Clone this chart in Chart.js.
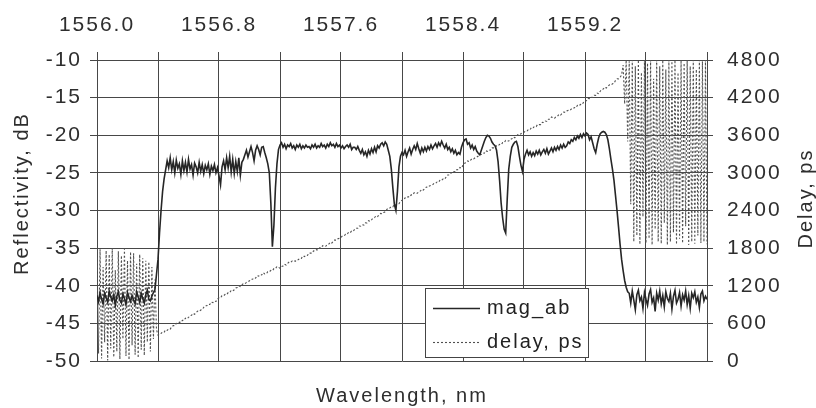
<!DOCTYPE html>
<html>
<head>
<meta charset="utf-8">
<script src="https://cdn.jsdelivr.net/npm/chart.js@4/dist/chart.umd.min.js"></script>
<style>
html,body{margin:0;padding:0;background:#fff;}
#wrap{width:816px;height:408px;}
</style>
</head>
<body>
<div id="wrap"><canvas id="c" width="816" height="408"></canvas></div>
<script>
// Wavelength samples, nm
const wavelength = [
1556.00,1556.01,1556.02,1556.03,1556.04,1556.05,1556.06,1556.07,1556.08,1556.09,
1556.10,1556.11,1556.12,1556.13,1556.14,1556.15,1556.16,1556.17,1556.18,1556.19,
1556.20,1556.21,1556.22,1556.23,1556.24,1556.25,1556.26,1556.27,1556.28,1556.29,
1556.30,1556.31,1556.32,1556.33,1556.34,1556.35,1556.36,1556.37,1556.38,1556.39,
1556.40,1556.41,1556.42,1556.43,1556.44,1556.45,1556.46,1556.47,1556.48,1556.49,
1556.50,1556.51,1556.52,1556.53,1556.54,1556.55,1556.56,1556.57,1556.58,1556.59,
1556.60,1556.61,1556.62,1556.63,1556.64,1556.65,1556.66,1556.67,1556.68,1556.69,
1556.70,1556.71,1556.72,1556.73,1556.74,1556.75,1556.76,1556.77,1556.78,1556.79,
1556.80,1556.81,1556.82,1556.83,1556.84,1556.85,1556.86,1556.87,1556.88,1556.89,
1556.90,1556.91,1556.92,1556.93,1556.94,1556.95,1556.96,1556.97,1556.98,1556.99,
1557.00,1557.01,1557.02,1557.03,1557.04,1557.05,1557.06,1557.07,1557.08,1557.09,
1557.10,1557.11,1557.12,1557.13,1557.14,1557.15,1557.16,1557.17,1557.18,1557.19,
1557.20,1557.21,1557.22,1557.23,1557.24,1557.25,1557.26,1557.27,1557.28,1557.29,
1557.30,1557.31,1557.32,1557.33,1557.34,1557.35,1557.36,1557.37,1557.38,1557.39,
1557.40,1557.41,1557.42,1557.43,1557.44,1557.45,1557.46,1557.47,1557.48,1557.49,
1557.50,1557.51,1557.52,1557.53,1557.54,1557.55,1557.56,1557.57,1557.58,1557.59,
1557.60,1557.61,1557.62,1557.63,1557.64,1557.65,1557.66,1557.67,1557.68,1557.69,
1557.70,1557.71,1557.72,1557.73,1557.74,1557.75,1557.76,1557.77,1557.78,1557.79,
1557.80,1557.81,1557.82,1557.83,1557.84,1557.85,1557.86,1557.87,1557.88,1557.89,
1557.90,1557.91,1557.92,1557.93,1557.94,1557.95,1557.96,1557.97,1557.98,1557.99,
1558.00,1558.01,1558.02,1558.03,1558.04,1558.05,1558.06,1558.07,1558.08,1558.09,
1558.10,1558.11,1558.12,1558.13,1558.14,1558.15,1558.16,1558.17,1558.18,1558.19,
1558.20,1558.21,1558.22,1558.23,1558.24,1558.25,1558.26,1558.27,1558.28,1558.29,
1558.30,1558.31,1558.32,1558.33,1558.34,1558.35,1558.36,1558.37,1558.38,1558.39,
1558.40,1558.41,1558.42,1558.43,1558.44,1558.45,1558.46,1558.47,1558.48,1558.49,
1558.50,1558.51,1558.52,1558.53,1558.54,1558.55,1558.56,1558.57,1558.58,1558.59,
1558.60,1558.61,1558.62,1558.63,1558.64,1558.65,1558.66,1558.67,1558.68,1558.69,
1558.70,1558.71,1558.72,1558.73,1558.74,1558.75,1558.76,1558.77,1558.78,1558.79,
1558.80,1558.81,1558.82,1558.83,1558.84,1558.85,1558.86,1558.87,1558.88,1558.89,
1558.90,1558.91,1558.92,1558.93,1558.94,1558.95,1558.96,1558.97,1558.98,1558.99,
1559.00,1559.01,1559.02,1559.03,1559.04,1559.05,1559.06,1559.07,1559.08,1559.09,
1559.10,1559.11,1559.12,1559.13,1559.14,1559.15,1559.16,1559.17,1559.18,1559.19,
1559.20,1559.21,1559.22,1559.23,1559.24,1559.25,1559.26,1559.27,1559.28,1559.29,
1559.30,1559.31,1559.32,1559.33,1559.34,1559.35,1559.36,1559.37,1559.38,1559.39,
1559.40,1559.41,1559.42,1559.43,1559.44,1559.45,1559.46,1559.47,1559.48,1559.49,
1559.50,1559.51,1559.52,1559.53,1559.54,1559.55,1559.56,1559.57,1559.58,1559.59,
1559.60,1559.61,1559.62,1559.63,1559.64,1559.65,1559.66,1559.67,1559.68,1559.69,
1559.70,1559.71,1559.72,1559.73,1559.74,1559.75,1559.76,1559.77,1559.78,1559.79,
1559.80,1559.81,1559.82,1559.83,1559.84,1559.85,1559.86,1559.87,1559.88,1559.89,
1559.90,1559.91,1559.92,1559.93,1559.94,1559.95,1559.96,1559.97,1559.98,1559.99,
1560.00
];

// Reflectivity, dB (mag_ab)
const magAb = [
-41.3,-42.1,-40.9,-41.8,-42.4,-41.0,-41.6,-42.2,-40.7,-41.5,
-42.0,-41.2,-42.6,-41.4,-40.8,-41.9,-42.3,-41.1,-41.7,-42.5,
-40.9,-41.6,-42.1,-41.3,-41.9,-42.4,-40.8,-41.5,-42.2,-41.0,
-41.7,-42.3,-41.2,-40.6,-41.8,-42.0,-41.4,-40.9,-40.5,-38.5,
-36.5,-33.0,-30.0,-27.5,-25.8,-24.6,-23.4,-24.3,-23.0,-24.6,
-23.5,-25.0,-23.3,-24.4,-23.8,-25.2,-23.4,-24.7,-23.6,-24.9,
-23.2,-24.5,-23.9,-25.3,-23.7,-24.2,-25.0,-23.6,-24.8,-23.9,
-25.1,-24.0,-24.6,-23.8,-25.2,-24.1,-24.7,-23.9,-25.0,-24.3,
-25.4,-26.6,-24.2,-23.4,-24.6,-23.0,-24.3,-22.8,-24.9,-23.2,
-25.1,-23.5,-24.8,-23.0,-25.3,-23.6,-23.2,-22.6,-22.0,-22.9,
-22.2,-21.5,-22.3,-23.4,-22.0,-21.4,-21.9,-22.6,-21.6,-21.5,
-22.3,-23.0,-23.8,-25.0,-29.0,-34.8,-32.0,-27.0,-23.8,-21.9,
-21.3,-21.0,-21.6,-21.2,-21.8,-21.3,-21.5,-21.1,-21.7,-21.4,
-21.9,-21.3,-21.6,-21.2,-21.8,-21.4,-21.7,-21.3,-21.6,-21.5,
-21.8,-21.3,-21.6,-21.2,-21.7,-21.4,-21.6,-21.1,-21.5,-21.3,
-21.7,-21.2,-21.5,-21.0,-21.4,-21.2,-21.6,-21.1,-21.5,-21.3,
-21.7,-21.4,-21.8,-21.5,-21.3,-21.6,-21.2,-21.9,-21.6,-21.6,
-21.9,-21.5,-22.0,-22.4,-21.9,-22.6,-22.2,-22.8,-22.0,-22.5,
-21.8,-22.3,-21.6,-22.2,-21.4,-21.7,-21.2,-21.0,-21.4,-20.9,
-21.2,-22.0,-22.8,-24.5,-27.0,-29.2,-30.0,-27.5,-24.2,-22.8,
-22.3,-22.6,-22.0,-22.8,-22.2,-21.7,-22.5,-21.9,-21.4,-21.9,
-21.1,-21.8,-22.4,-21.7,-22.2,-21.6,-22.1,-21.5,-21.9,-21.3,
-21.8,-21.4,-21.1,-21.6,-21.0,-21.4,-20.8,-21.3,-21.7,-21.2,
-21.9,-21.6,-22.2,-21.8,-22.4,-22.0,-22.6,-22.3,-22.5,-21.6,
-21.0,-20.6,-20.5,-21.2,-21.0,-21.7,-21.3,-21.9,-21.5,-22.1,
-22.4,-22.6,-22.0,-21.4,-20.8,-20.3,-20.0,-20.1,-20.4,-20.9,
-21.2,-21.4,-22.0,-23.5,-26.0,-29.0,-31.0,-32.5,-33.0,-28.5,
-24.5,-22.8,-21.6,-21.2,-20.9,-20.8,-21.5,-22.8,-24.0,-24.8,
-23.2,-22.5,-22.0,-22.6,-22.2,-22.8,-22.3,-22.7,-22.1,-22.5,
-22.0,-22.6,-22.2,-21.9,-22.4,-21.8,-22.5,-22.1,-21.7,-22.2,
-21.6,-22.0,-21.5,-21.9,-21.3,-21.7,-21.2,-21.6,-21.4,-20.9,
-21.1,-20.6,-20.8,-20.3,-20.6,-20.1,-20.4,-19.9,-20.3,-19.8,
-20.1,-19.7,-19.9,-20.6,-20.2,-21.0,-21.8,-22.3,-21.2,-20.3,
-19.8,-19.6,-19.5,-19.6,-19.9,-20.6,-21.8,-23.2,-24.5,-26.0,
-28.0,-30.0,-32.2,-34.5,-36.5,-38.0,-39.3,-40.2,-40.8,-41.0,
-42.3,-40.7,-41.9,-43.2,-41.2,-40.6,-42.0,-41.5,-43.0,-40.9,
-41.8,-42.6,-41.1,-40.5,-42.2,-41.6,-43.4,-41.0,-41.9,-40.7,
-42.4,-41.3,-42.8,-40.8,-41.7,-42.1,-41.0,-43.1,-41.4,-40.6,
-42.3,-41.8,-40.9,-42.7,-41.2,-41.9,-40.7,-42.5,-41.3,-43.0,
-41.0,-41.6,-40.8,-42.2,-41.5,-42.9,-41.1,-40.7,-42.0,-41.4,
-41.8
];

// Delay, ps
const delayPs = [
1650,120,1780,40,1500,300,1760,10,1700,200,
1800,60,1450,150,1750,30,1680,350,1790,80,
1600,20,1740,250,1720,100,1550,50,1700,180,
1640,90,1600,300,1580,150,1500,350,1300,500,
415,440,439,463,459,497,489,513,508,545,
564,564,600,597,620,614,649,648,684,673,
694,722,729,759,746,773,795,789,812,820,
857,882,881,905,901,939,931,955,950,987,
1006,1006,1042,1039,1062,1056,1091,1090,1126,1115,
1136,1164,1171,1201,1188,1215,1237,1231,1254,1262,
1279,1304,1303,1327,1323,1361,1353,1377,1372,1409,
1388,1388,1424,1421,1444,1438,1473,1472,1508,1497,
1478,1506,1513,1543,1530,1557,1579,1573,1596,1604,
1591,1616,1615,1639,1635,1673,1665,1689,1684,1721,
1720,1720,1756,1753,1776,1770,1805,1804,1840,1829,
1830,1858,1865,1895,1882,1909,1931,1925,1948,1956,
1973,1998,1997,2021,2017,2055,2047,2071,2066,2103,
2117,2117,2153,2150,2173,2167,2202,2201,2237,2226,
2252,2280,2287,2317,2304,2331,2353,2347,2370,2378,
2415,2440,2439,2463,2459,2497,2489,2513,2508,2545,
2564,2564,2600,2597,2620,2614,2649,2648,2684,2673,
2674,2702,2709,2739,2726,2753,2775,2769,2792,2800,
2807,2832,2831,2855,2851,2889,2881,2905,2900,2937,
2966,2966,3002,2999,3022,3016,3051,3050,3086,3075,
3126,3154,3161,3191,3178,3205,3227,3221,3244,3252,
3269,3294,3293,3317,3313,3351,3343,3367,3362,3399,
3398,3398,3434,3431,3454,3448,3483,3482,3518,3507,
3508,3536,3543,3573,3560,3587,3609,3603,3626,3634,
3646,3671,3670,3694,3690,3728,3720,3744,3739,3776,
3770,3770,3806,3803,3826,3820,3855,3854,3890,3879,
3870,3898,3905,3935,3922,3949,3971,3965,3988,3996,
3993,4018,4017,4041,4037,4075,4067,4091,4086,4123,
4152,4152,4188,4185,4208,4202,4237,4236,4272,4261,
4302,4330,4337,4367,4354,4381,4403,4397,4420,4428,
4475,4500,4499,4523,4560,4720,4100,4800,3500,4780,
2500,4800,1900,4700,2000,4800,1860,4600,2300,4800,
1880,4750,1950,4800,1850,4500,2100,4800,1900,4700,
1870,4800,2200,4650,1850,4800,1900,4780,2050,4800,
1860,4600,1950,4800,1880,4750,2150,4800,1850,4700,
1900,4800,1870,4650,2000,4800,1880,4780,1900,4800,
1860
];

const wavelengthTicks = ['1556.0','1556.8','1557.6','1558.4','1559.2'];
const seriesNames = ['mag_ab', 'delay, ps'];

const FONT = "'Liberation Sans', Arial, Helvetica, sans-serif";
const TEXT = '#2e2e2e';
const GRID = '#474747';
const SPACING = '2px';

const spacingPlugin = {
  id: 'spacing',
  beforeUpdate(chart) { chart.ctx.letterSpacing = SPACING; },
  beforeLayout(chart) { chart.ctx.letterSpacing = SPACING; },
  beforeDraw(chart) { chart.ctx.letterSpacing = SPACING; }
};

const decorPlugin = {
  id: 'decor',
  afterDraw(chart) {
    const ctx = chart.ctx;
    const ca = chart.chartArea;
    ctx.save();
    ctx.letterSpacing = SPACING;
    ctx.font = '20px ' + FONT;
    ctx.fillStyle = TEXT;
    ctx.textAlign = 'center';
    ctx.textBaseline = 'middle';
    // left axis title
    const ly = chart.scales.y;
    ctx.save();
    ctx.translate(ly.left + 22, (ca.top + ca.bottom) / 2 - 17);
    ctx.rotate(-Math.PI / 2);
    ctx.fillText(ly.options.title.text, 0, 0);
    ctx.restore();
    // right axis title
    const ry = chart.scales.y2;
    ctx.save();
    ctx.translate(ry.right - 10, (ca.top + ca.bottom) / 2 - 12);
    ctx.rotate(-Math.PI / 2);
    ctx.fillText(ry.options.title.text, 0, 0);
    ctx.restore();

    // legend box inside plot area
    const bx = ca.left + 328, by = ca.top + 228, bw = 163, bh = 69;
    ctx.fillStyle = '#fff';
    ctx.fillRect(bx, by, bw, bh);
    ctx.strokeStyle = '#444';
    ctx.lineWidth = 1;
    ctx.strokeRect(bx + 0.5, by + 0.5, bw, bh);
    const ds = chart.data.datasets;
    const rows = [by + 20, by + 54];
    ds.forEach((d, i) => {
      ctx.save();
      ctx.strokeStyle = d.borderColor;
      ctx.lineWidth = d.borderWidth;
      ctx.setLineDash(d.borderDash || []);
      ctx.beginPath();
      ctx.moveTo(bx + 8, rows[i] + 0.5);
      ctx.lineTo(bx + 55, rows[i] + 0.5);
      ctx.stroke();
      ctx.restore();
      ctx.fillStyle = '#222';
      ctx.textAlign = 'left';
      ctx.textBaseline = 'middle';
      ctx.fillText(d.label, bx + 62, rows[i]);
    });
    ctx.restore();
  }
};

new Chart(document.getElementById('c'), {
  type: 'line',
  data: {
    labels: wavelength,
    datasets: [
      {
        label: seriesNames[0],
        data: magAb,
        xAxisID: 'x',
        yAxisID: 'y',
        borderColor: '#262626',
        borderWidth: 1.6,
        pointRadius: 0,
        tension: 0,
        fill: false
      },
      {
        label: seriesNames[1],
        data: delayPs,
        xAxisID: 'x',
        yAxisID: 'y2',
        borderColor: '#505050',
        borderWidth: 1.1,
        borderDash: [2, 2],
        pointRadius: 0,
        tension: 0,
        fill: false
      }
    ]
  },
  options: {
    responsive: false,
    animation: false,
    events: [],
    layout: { padding: 0 },
    plugins: { legend: { display: false }, tooltip: { enabled: false } },
    scales: {
      x: {
        type: 'linear',
        position: 'top',
        min: 1556,
        max: 1560,
        afterFit: (s) => { s.height = 60; },
        ticks: {
          stepSize: 0.4,
          autoSkip: false,
          maxRotation: 0,
          padding: 14,
          color: TEXT,
          font: { family: FONT, size: 21 },
          callback: (v, i) => (i % 2 === 0 && i / 2 < wavelengthTicks.length) ? wavelengthTicks[i / 2] : ''
        },
        grid: { color: GRID, lineWidth: 1, tickLength: 8 },
        border: { display: true, color: GRID }
      },
      xb: {
        type: 'linear',
        position: 'bottom',
        min: 1556,
        max: 1560,
        afterFit: (s) => { s.height = 47; },
        ticks: { display: false },
        grid: { display: false },
        border: { display: false },
        title: {
          display: true,
          text: 'Wavelength, nm',
          color: TEXT,
          font: { family: FONT, size: 20 },
          padding: { top: 0, bottom: 0 }
        }
      },
      y: {
        position: 'left',
        min: -50,
        max: -10,
        afterFit: (s) => { s.width = 97; },
        ticks: {
          stepSize: 5,
          padding: 8,
          color: TEXT,
          font: { family: FONT, size: 21 },
          callback: (v) => String(v)
        },
        grid: { color: GRID, lineWidth: 1, tickLength: 7 },
        border: { display: true, color: GRID },
        title: { display: false, text: 'Reflectivity, dB' }
      },
      y2: {
        position: 'right',
        min: 0,
        max: 4800,
        afterFit: (s) => { s.width = 109; },
        ticks: {
          stepSize: 600,
          padding: 14,
          color: TEXT,
          font: { family: FONT, size: 21 },
          callback: (v) => String(v)
        },
        grid: { drawOnChartArea: false, color: GRID, lineWidth: 1, tickLength: 6 },
        border: { display: true, color: GRID },
        title: { display: false, text: 'Delay, ps' }
      }
    }
  },
  plugins: [spacingPlugin, decorPlugin]
});
</script>
</body>
</html>
